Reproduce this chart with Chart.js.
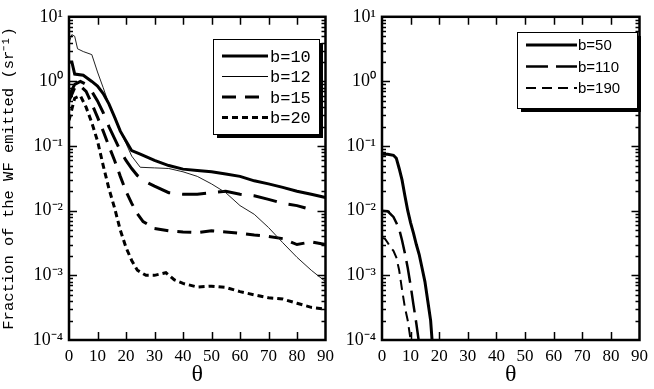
<!DOCTYPE html>
<html>
<head>
<meta charset="utf-8">
<script src="https://cdn.jsdelivr.net/npm/chart.js@4"></script>
<style>
  body { margin: 0; background: #fff; }
  #wrap { position: relative; width: 654px; height: 389px; }
  canvas { position: absolute; top: 0; }
  #left { left: 0; }
  #right { left: 340px; }
</style>
</head>
<body>
<div id="wrap">
  <canvas id="left" width="340" height="389"></canvas>
  <canvas id="right" width="314" height="389"></canvas>
</div>
<script>
// values (theta in degrees, fraction in sr^-1)
const yTickValues = [1e-4, 1e-3, 1e-2, 1e-1, 1, 10];
const xTickValues = [0, 10, 20, 30, 40, 50, 60, 70, 80, 90];

// left panel
const thetaB10 = [0, 1, 2, 5, 8, 10, 12, 14, 16, 18, 20, 22, 25, 30, 35, 40, 45, 50, 55, 60, 65, 70, 75, 80, 85, 90];
const fracB10 = [2.0, 2.0, 1.3, 1.25, 1.0, 0.85, 0.65, 0.45, 0.28, 0.17, 0.12, 0.085, 0.075, 0.06, 0.05, 0.044, 0.042, 0.04, 0.037, 0.034, 0.029, 0.026, 0.023, 0.02, 0.018, 0.016];

const thetaB12 = [0, 1, 2, 3, 5, 8, 10, 12, 14, 16, 18, 20, 22, 25, 30, 35, 40, 45, 50, 55, 60, 65, 70, 75, 80, 85, 90];
const fracB12 = [4.0, 5.3, 5.0, 3.2, 2.9, 2.6, 1.4, 0.8, 0.45, 0.27, 0.17, 0.11, 0.07, 0.047, 0.046, 0.045, 0.04, 0.034, 0.026, 0.019, 0.012, 0.0088, 0.0055, 0.0032, 0.0019, 0.0012, 0.0008];

const thetaMid = [0, 2, 4, 6, 8, 10, 12, 14, 16, 18, 20, 22, 24, 27, 30, 35, 40, 45, 50, 55, 60, 65, 70, 75, 80, 83];
const fracMid = [0.6, 0.9, 1.0, 0.9, 0.7, 0.5, 0.33, 0.2, 0.13, 0.085, 0.06, 0.045, 0.035, 0.028, 0.024, 0.019, 0.018, 0.018, 0.019, 0.02, 0.018, 0.017, 0.015, 0.013, 0.012, 0.011];

const thetaB15 = [0, 2, 4, 6, 8, 10, 12, 14, 16, 18, 20, 22, 24, 26, 30, 35, 40, 45, 50, 55, 60, 65, 70, 75, 80, 85, 90];
const fracB15 = [0.5, 0.8, 0.85, 0.7, 0.45, 0.28, 0.17, 0.1, 0.06, 0.034, 0.02, 0.013, 0.009, 0.0068, 0.0053, 0.0049, 0.0047, 0.0046, 0.0049, 0.0047, 0.0045, 0.0042, 0.004, 0.0037, 0.003, 0.0033, 0.003];

const thetaB20 = [0, 2, 4, 6, 8, 10, 12, 14, 16, 18, 20, 22, 24, 27, 30, 34, 37, 40, 45, 50, 55, 60, 65, 70, 75, 80, 85, 90];
const fracB20 = [0.25, 0.55, 0.6, 0.4, 0.23, 0.12, 0.05, 0.022, 0.011, 0.005, 0.0027, 0.0017, 0.0012, 0.001, 0.001, 0.0011, 0.00085, 0.00075, 0.00066, 0.00068, 0.00065, 0.00056, 0.0005, 0.00045, 0.00043, 0.00037, 0.00032, 0.0003];

// right panel
const thetaB50 = [0, 2, 4, 5, 6, 7, 8, 9, 10, 11, 12, 13, 14, 15, 16, 17, 17.5];
const fracB50 = [0.075, 0.075, 0.072, 0.065, 0.045, 0.03, 0.017, 0.01, 0.0065, 0.0045, 0.003, 0.0021, 0.0013, 0.0008, 0.0004, 0.0002, 0.0001];

const thetaB110 = [0, 2, 4, 5, 6, 7, 8, 9, 10, 11, 12, 12.8];
const fracB110 = [0.01, 0.0098, 0.008, 0.0065, 0.0052, 0.0035, 0.0022, 0.0013, 0.0007, 0.00035, 0.00018, 0.0001];

const thetaB190 = [0, 1, 2, 3, 4, 5, 6, 7, 8, 9, 10];
const fracB190 = [0.0038, 0.0037, 0.0032, 0.0027, 0.0024, 0.0019, 0.0012, 0.0006, 0.00032, 0.0002, 0.0001];

const toPoints = (xs, ys) => xs.map((x, i) => ({ x: x, y: ys[i] }));

const supMap = { '-': '\u207B', '0': '\u2070', '1': '\u00B9', '2': '\u00B2', '3': '\u00B3', '4': '\u2074' };
function powLabel(v) {
  const e = Math.round(Math.log10(v));
  return '10' + String(e).split('').map(c => supMap[c]).join('');
}

// frame + inward ticks, like the old plotting program
const frameTicks = {
  id: 'frameTicks',
  afterDraw(chart) {
    const { ctx, chartArea: a, scales: { x, y } } = chart;
    ctx.save();
    ctx.strokeStyle = '#000';
    ctx.lineWidth = 1.5;
    ctx.beginPath();
    for (let t = 10; t < 90; t += 10) {
      const px = Math.round(x.getPixelForValue(t)) + 0.5;
      ctx.moveTo(px, a.bottom); ctx.lineTo(px, a.bottom - 8);
      ctx.moveTo(px, a.top); ctx.lineTo(px, a.top + 8);
    }
    for (let e = -4; e <= 1; e++) {
      for (let m = 1; m <= 9; m++) {
        const v = m * Math.pow(10, e);
        if (v > 10 || (e === -4 && m === 1) || e === 1) continue;
        const py = Math.round(y.getPixelForValue(v)) + 0.5;
        const len = m === 1 ? 8 : 4;
        ctx.moveTo(a.left, py); ctx.lineTo(a.left + len, py);
        ctx.moveTo(a.right, py); ctx.lineTo(a.right - len, py);
      }
    }
    ctx.stroke();
    ctx.lineWidth = 2.5;
    ctx.strokeRect(a.left, a.top, a.right - a.left, a.bottom - a.top);
    ctx.restore();
  }
};

// boxed legend with drop shadow
const boxLegend = {
  id: 'boxLegend',
  afterDraw(chart, args, opts) {
    const { ctx } = chart;
    const b = opts.box;
    ctx.save();
    ctx.fillStyle = '#000';
    ctx.fillRect(b.x + 4, b.y + 4, b.w, b.h);
    ctx.fillStyle = '#fff';
    ctx.fillRect(b.x, b.y, b.w, b.h);
    ctx.strokeStyle = '#000';
    ctx.lineWidth = 1;
    ctx.strokeRect(b.x + 0.5, b.y + 0.5, b.w, b.h);
    ctx.font = opts.font;
    ctx.textBaseline = 'middle';
    ctx.fillStyle = '#000';
    let row = 0;
    chart.data.datasets.forEach(ds => {
      if (!ds.label) return;
      const ry = b.y + opts.firstRow + row * opts.rowGap;
      ctx.beginPath();
      ctx.lineWidth = ds.borderWidth;
      ctx.setLineDash(ds.borderDash || []);
      ctx.moveTo(b.x + opts.lineFrom, ry);
      ctx.lineTo(b.x + opts.lineTo, ry);
      ctx.stroke();
      ctx.setLineDash([]);
      ctx.fillText(ds.label, b.x + opts.textAt, ry + 1);
      row++;
    });
    ctx.restore();
  }
};

function makeOptions(yWidth, padRight, showTitle, legendOpts) {
  return {
    responsive: false,
    animation: false,
    layout: { padding: { top: 15, right: padRight, left: 0, bottom: 0 } },
    elements: { point: { radius: 0 }, line: { tension: 0, borderCapStyle: 'butt' } },
    plugins: {
      legend: { display: false },
      tooltip: { enabled: false },
      boxLegend: legendOpts
    },
    scales: {
      x: {
        type: 'linear', min: 0, max: 90,
        afterBuildTicks: s => { s.ticks = xTickValues.map(v => ({ value: v })); },
        afterFit: s => { s.height = 49; },
        grid: { display: false, drawTicks: false },
        border: { display: false },
        ticks: { color: '#000', padding: 6, autoSkip: false, maxRotation: 0,
                 font: { family: 'Liberation Serif', size: 17 } },
        title: { display: true, text: '\u03B8', color: '#000', padding: { top: 0, bottom: 0 },
                 font: { family: 'Liberation Serif', size: 24 } }
      },
      y: {
        type: 'logarithmic', min: 1e-4, max: 10,
        afterBuildTicks: s => { s.ticks = yTickValues.map(v => ({ value: v })); },
        afterFit: s => { s.width = yWidth; },
        grid: { display: false, drawTicks: false },
        border: { display: false },
        ticks: { color: '#000', padding: 6, autoSkip: false, callback: v => powLabel(v),
                 font: { family: 'Liberation Serif', size: 18 } },
        title: { display: showTitle, text: 'Fraction of the WF emitted (sr\u207B\u00B9)', color: '#000',
                 padding: { top: 0, bottom: 1 },
                 font: { family: 'Liberation Mono', size: 15.5 } }
      }
    }
  };
}

new Chart(document.getElementById('left'), {
  type: 'line',
  data: {
    datasets: [
      { label: 'b=10', data: toPoints(thetaB10, fracB10), borderColor: '#000', borderWidth: 3 },
      { label: 'b=12', data: toPoints(thetaB12, fracB12), borderColor: '#222', borderWidth: 1 },
      { label: '', data: toPoints(thetaMid, fracMid), borderColor: '#000', borderWidth: 3, borderDash: [24, 12] },
      { label: 'b=15', data: toPoints(thetaB15, fracB15), borderColor: '#000', borderWidth: 3, borderDash: [14, 9] },
      { label: 'b=20', data: toPoints(thetaB20, fracB20), borderColor: '#000', borderWidth: 3, borderDash: [6, 4] }
    ]
  },
  options: makeOptions(69, 10, true, {
    box: { x: 213, y: 39, w: 106, h: 95 },
    firstRow: 17, rowGap: 20.5, lineFrom: 9, lineTo: 55, textAt: 57,
    font: '17px "Liberation Mono"'
  }),
  plugins: [frameTicks, boxLegend]
});

new Chart(document.getElementById('right'), {
  type: 'line',
  data: {
    datasets: [
      { label: 'b=50', data: toPoints(thetaB50, fracB50), borderColor: '#000', borderWidth: 3 },
      { label: 'b=110', data: toPoints(thetaB110, fracB110), borderColor: '#000', borderWidth: 2.5, borderDash: [22, 8] },
      { label: 'b=190', data: toPoints(thetaB190, fracB190), borderColor: '#000', borderWidth: 2, borderDash: [10, 6] }
    ]
  },
  options: makeOptions(42, 12, false, {
    box: { x: 177, y: 32, w: 120, h: 76 },
    firstRow: 13, rowGap: 21.5, lineFrom: 9, lineTo: 60, textAt: 61,
    font: '15px "Liberation Sans"'
  }),
  plugins: [frameTicks, boxLegend]
});
</script>
</body>
</html>
